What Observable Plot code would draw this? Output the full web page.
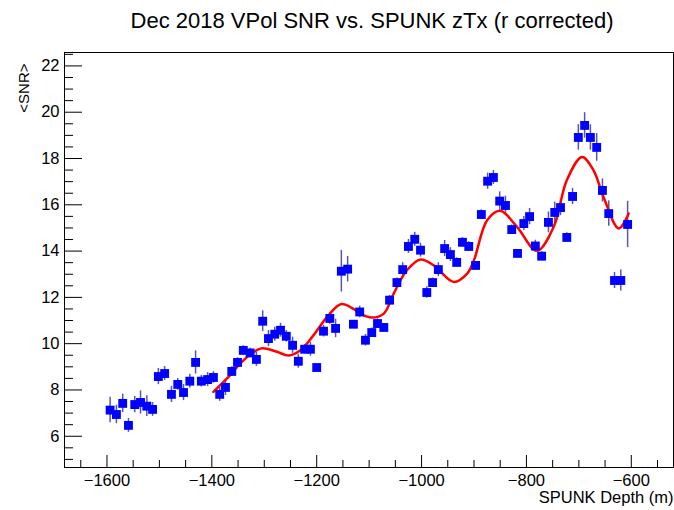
<!DOCTYPE html>
<html>
<head>
<meta charset="utf-8">
<script src="https://cdn.jsdelivr.net/npm/d3@7"></script>
<script src="https://cdn.jsdelivr.net/npm/@observablehq/plot@0.6"></script>
<style>
  html, body { margin: 0; padding: 0; background: #fff; }
  #chart svg { display: block; }
</style>
</head>
<body>
<div id="chart"></div>
<script>
const titleText = "Dec 2018 VPol SNR vs. SPUNK zTx (r corrected)";
const xLabel = "SPUNK Depth (m)";
const yLabel = "<SNR>";

const depth = [-1594,-1582,-1570,-1559,-1547,-1536,-1524,-1513,-1502,-1490,
  -1477,-1465,-1454,-1442,-1431,-1420,-1408,-1397,-1385,-1374,
  -1362,-1351,-1340,-1327,-1315,-1303,-1292,-1280,-1269,-1258,
  -1246,-1235,-1223,-1212,-1200,-1187,-1175,-1164,-1153,-1141,
  -1130,-1118,-1107,-1095,-1084,-1072,-1061,-1047,-1036,-1025,
  -1013,-1002,-990,-979,-968,-956,-945,-933,-922,-910,
  -897,-886,-874,-863,-851,-840,-828,-817,-805,-794,
  -783,-771,-758,-746,-735,-723,-712,-701,-689,-678,
  -666,-655,-643,-632,-620,-607];
const snr = [7.13,6.94,7.42,6.47,7.37,7.46,7.30,7.16,8.58,8.71,
  7.81,8.24,7.89,8.38,9.19,8.38,8.45,8.54,7.81,8.11,
  8.80,9.19,9.71,9.60,9.32,10.97,10.22,10.41,10.58,10.32,
  9.93,9.24,9.76,9.76,8.97,10.54,11.09,10.66,13.13,13.22,
  10.84,11.37,10.15,10.48,10.87,10.70,11.88,12.64,13.20,14.20,
  14.51,14.04,12.21,12.64,13.20,14.11,13.85,13.51,14.38,14.20,
  13.38,15.58,17.02,17.18,16.16,15.97,14.93,13.90,15.19,15.49,
  14.22,13.78,15.24,15.67,15.88,14.59,16.36,18.91,19.43,18.91,
  18.48,16.62,15.62,12.73,12.73,15.15];
const snrErr = [0.55,0.4,0.4,0.3,0.35,0.5,0.45,0.3,0.35,0.3,
  0.35,0.25,0.35,0.3,0.5,0.25,0.3,0.25,0.3,0.35,
  0.2,0.2,0.2,0.2,0.3,0.45,0.35,0.3,0.3,0.25,
  0.35,0.3,0.2,0.3,0.1,0.25,0.25,0.4,0.9,0.55,
  0.15,0.25,0.25,0.2,0.2,0.15,0.2,0.2,0.3,0.3,
  0.3,0.3,0.25,0.2,0.3,0.35,0.3,0.2,0.2,0.2,
  0.15,0.2,0.35,0.3,0.4,0.4,0.2,0.15,0.3,0.35,
  0.25,0.2,0.45,0.45,0.35,0.2,0.35,0.55,0.55,0.55,
  0.6,0.5,0.55,0.35,0.45,1.0];

// fitted curve
const fitX = [-1397,-1365,-1346,-1323,-1304,-1276,-1254,-1231,-1206,-1180,-1153,-1130,-1117,-1095,-1072,-1053,-1028,-1002,-977,-939,-913,-900,-875,-850,-818,-780,-748,-723,-694,-672,-653,-624,-605];
const fitY = [7.92,8.64,9.14,9.60,9.80,9.65,9.49,9.72,10.37,11.16,11.71,11.50,11.30,11.13,11.30,12.17,13.17,13.64,13.39,12.67,13.03,13.61,15.33,15.74,15.05,14.01,15.05,17.06,18.07,17.49,16.34,14.98,15.62];

const xMajor = [-1600,-1400,-1200,-1000,-800,-600];
const xMinor = [-1650,-1550,-1500,-1450,-1350,-1300,-1250,-1150,-1100,-1050,-950,-900,-850,-750,-700,-650,-550];
const yMajor = [6,8,10,12,14,16,18,20,22];
const yMinor = [5,5.5,6.5,7,7.5,8.5,9,9.5,10.5,11,11.5,12.5,13,13.5,14.5,15,15.5,16.5,17,17.5,18.5,19,19.5,20.5,21,21.5,22.5];

const points = depth.map((d, i) => ({depth: d, snr: snr[i], err: snrErr[i]}));
const fit = fitX.map((d, i) => ({x: d, y: fitY[i]}));

const W = 674, H = 510, ML = 64, MR = 1, MT = 52, MB = 43;
const frameW = W - ML - MR, frameH = H - MT - MB;

const font = "'Liberation Sans', Arial, Helvetica, sans-serif";
const fmt = d3.format("d");

const chart = Plot.plot({
  width: W,
  height: H,
  marginLeft: ML,
  marginRight: MR,
  marginTop: MT,
  marginBottom: MB,
  style: {fontFamily: font, background: "#fff", color: "#000"},
  x: {domain: [-1681, -519.5]},
  y: {domain: [4.65, 22.58]},
  marks: [
    Plot.frame({stroke: "#000", strokeWidth: 1}),
    // error bars
    Plot.ruleX(points, {x: "depth", y1: d => d.snr - d.err, y2: d => d.snr + d.err, stroke: "#2d2da0", strokeWidth: 1.5, strokeOpacity: 0.8}),
    // fit
    Plot.line(fit, {x: "x", y: "y", stroke: "#ff0000", strokeWidth: 2.5, curve: "catmull-rom"}),
    // markers
    Plot.dot(points, {x: "depth", y: "snr", symbol: "square", r: 5, fill: "#0000ff", stroke: "none"}),
    // inner ticks (ROOT style)
    Plot.tickX(xMajor, {x: d => d, insetTop: frameH - 12, stroke: "#000", strokeWidth: 1}),
    Plot.tickX(xMinor, {x: d => d, insetTop: frameH - 7, stroke: "#000", strokeWidth: 1}),
    Plot.tickY(yMajor, {y: d => d, insetRight: frameW - 18, stroke: "#000", strokeWidth: 1}),
    Plot.tickY(yMinor, {y: d => d, insetRight: frameW - 9, stroke: "#000", strokeWidth: 1}),
    Plot.axisX({ticks: xMajor, tickSize: 0, tickPadding: 7, tickFormat: fmt, fontSize: 16.5, label: null}),
    Plot.axisY({ticks: yMajor, tickSize: 0, tickPadding: 5, tickFormat: fmt, fontSize: 16.5, label: null}),
    Plot.text([xLabel], {frameAnchor: "bottom-right", text: d => d, textAnchor: "end", dy: 35, fontSize: 16.5}),
    Plot.text([yLabel], {frameAnchor: "top-left", text: d => d, rotate: -90, textAnchor: "end", dx: -46, dy: 11, fontSize: 15}),
    Plot.text([titleText], {frameAnchor: "top", text: d => d, dx: 3, dy: -40, fontSize: 22})
  ]
});

document.getElementById("chart").appendChild(chart);
</script>
</body>
</html>
